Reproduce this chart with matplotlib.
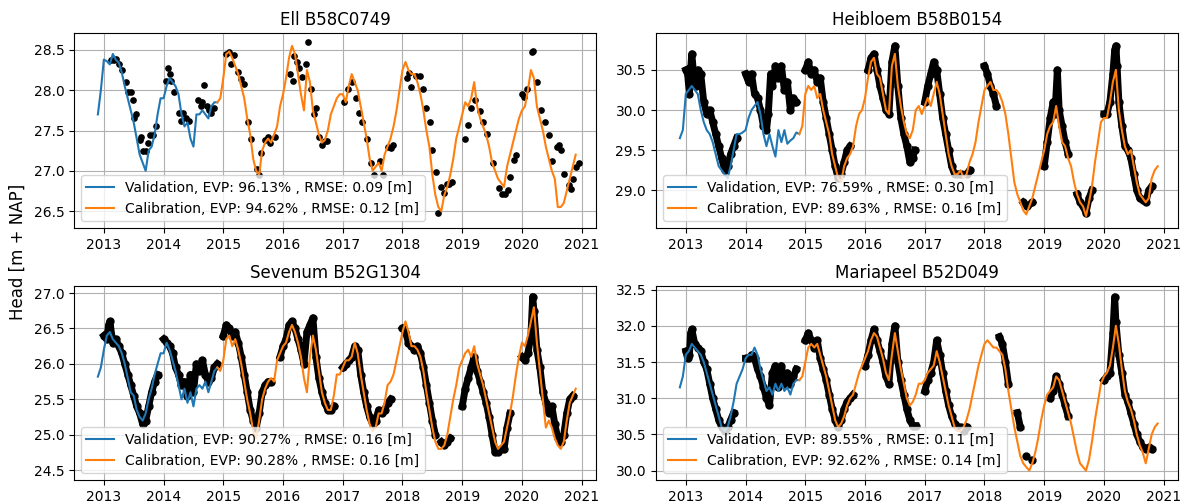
import matplotlib.pyplot as plt
import numpy as np

nan = np.nan
years = list(range(2013, 2022))
split_year = 2014.9

# simulated heads, every 0.05 year from 2012.90 to 2020.90
sim_ell = [27.70, 28.00,
           28.38, 28.36, 28.32, 28.45, 28.38, 28.34, 28.22, 28.05, 27.90, 27.75, 27.60, 27.40, 27.20, 27.10, 27.00, 27.25, 27.30, 27.45, 27.70, 27.90,
           27.90, 28.05, 28.15, 28.10, 28.05, 27.95, 27.70, 27.55, 27.60, 27.40, 27.30, 27.70, 27.70, 27.75, 27.70, 27.65, 27.80, 27.85, 27.85, 27.90,
           28.15, 28.45, 28.48, 28.40, 28.30, 28.20, 28.05, 27.90, 27.65, 27.45, 27.15, 27.00, 26.95, 27.25, 27.35, 27.40, 27.35, 27.45, 27.55, 27.80,
           27.95, 28.15, 28.40, 28.55, 28.45, 28.20, 27.95, 27.75, 28.25, 28.10, 27.75, 27.60, 27.45, 27.35, 27.38, 27.50, 27.70, 27.80, 27.90, 27.95,
           27.95, 27.85, 28.05, 28.20, 28.10, 28.00, 27.80, 27.60, 27.40, 27.15, 27.00, 27.05, 27.10, 27.00, 27.20, 27.30, 27.40, 27.55, 27.75, 28.00,
           28.25, 28.35, 28.25, 28.20, 28.20, 28.10, 27.95, 27.75, 27.50, 27.30, 26.95, 26.70, 26.55, 26.50, 26.70, 26.80, 26.95, 27.15, 27.40, 27.55,
           27.70, 27.85, 27.80, 27.90, 28.10, 27.80, 27.65, 27.55, 27.45, 27.30, 27.10, 27.00, 26.90, 26.85, 26.80, 27.05, 27.20, 27.35, 27.50, 27.65,
           27.75, 27.80, 28.00, 28.25, 28.15, 27.80, 27.65, 27.50, 27.30, 27.15, 27.00, 26.90, 26.55, 26.55, 26.60, 26.75, 26.90, 27.05, 27.20]

sim_heibloem = [29.65, 29.75,
                30.20, 30.25, 30.30, 30.25, 30.20, 30.00, 29.85, 29.75, 29.70, 29.60, 29.45, 29.30, 29.25, 29.20, 29.15, 29.30, 29.50, 29.70, 29.70, 29.72,
                29.75, 29.90, 30.00, 30.05, 30.10, 29.95, 29.70, 29.55, 29.70, 29.55, 29.42, 29.75, 29.60, 29.75, 29.58, 29.62, 29.65, 29.72, 29.70, 29.80,
                30.20, 30.30, 30.25, 30.30, 30.15, 30.20, 30.00, 29.85, 29.70, 29.45, 29.30, 29.15, 29.10, 29.30, 29.40, 29.45, 29.55, 29.80, 29.95, 30.00,
                30.15, 30.40, 30.60, 30.65, 30.45, 30.40, 30.20, 30.00, 29.95, 30.55, 30.70, 30.30, 30.05, 29.85, 29.70, 29.65, 29.75, 30.00, 30.05, 29.95,
                30.05, 30.15, 30.05, 30.20, 30.35, 30.20, 29.95, 29.70, 29.45, 29.30, 29.20, 29.20, 29.25, 29.15, 29.20, 29.35, 29.45, 29.60, 29.85, 30.05,
                30.25, 30.30, 30.35, 30.25, 30.25, 30.20, 30.10, 29.95, 29.70, 29.40, 29.10, 28.95, 28.85, 28.75, 28.70, 28.80, 28.90, 29.05, 29.20, 29.35,
                29.50, 29.70, 29.80, 29.85, 30.05, 29.80, 29.60, 29.55, 29.40, 29.30, 29.10, 28.95, 28.85, 28.80, 28.68, 28.85, 29.05, 29.35, 29.60, 29.85,
                29.90, 29.90, 30.10, 30.35, 30.50, 30.00, 29.75, 29.55, 29.45, 29.50, 29.30, 29.10, 28.95, 28.90, 28.85, 28.90, 29.15, 29.25, 29.30]

sim_sevenum = [25.82, 25.95,
               26.20, 26.40, 26.45, 26.35, 26.30, 26.25, 26.15, 26.00, 25.80, 25.60, 25.55, 25.35, 25.25, 25.20, 25.30, 25.50, 25.65, 25.85, 26.00, 26.15,
               26.15, 26.30, 26.20, 26.05, 25.90, 25.70, 25.50, 25.65, 25.45, 25.60, 25.40, 25.65, 25.70, 25.65, 25.75, 25.60, 25.75, 25.90, 25.95, 25.90,
               26.05, 26.35, 26.40, 26.25, 26.35, 26.20, 26.00, 25.75, 25.50, 25.30, 25.05, 24.95, 25.20, 25.50, 25.65, 25.75, 25.80, 25.75, 26.05, 26.15,
               26.25, 26.30, 26.45, 26.55, 26.45, 26.30, 26.10, 25.80, 25.60, 26.10, 26.40, 26.20, 25.90, 25.60, 25.45, 25.35, 25.35, 25.55, 25.85, 25.85,
               25.95, 26.05, 26.05, 26.10, 26.30, 26.15, 25.85, 25.60, 25.35, 25.15, 25.05, 25.10, 25.30, 25.30, 25.45, 25.70, 25.75, 25.85, 26.05, 26.25,
               26.45, 26.60, 26.45, 26.25, 26.25, 26.20, 26.10, 25.90, 25.60, 25.35, 25.10, 24.90, 24.80, 24.80, 24.85, 25.00, 25.25, 25.50, 25.70, 25.95,
               26.05, 26.15, 26.20, 26.10, 26.25, 26.00, 25.85, 25.70, 25.50, 25.30, 25.10, 24.90, 24.80, 24.85, 24.90, 25.10, 25.30, 25.55, 25.85, 26.10,
               26.30, 26.25, 26.40, 26.60, 26.80, 26.30, 25.90, 25.50, 25.10, 25.20, 25.10, 24.95, 24.85, 24.80, 24.90, 25.20, 25.45, 25.55, 25.65]

sim_mariapeel = [31.15, 31.30,
                 31.60, 31.65, 31.75, 31.70, 31.65, 31.60, 31.50, 31.35, 31.20, 31.05, 30.90, 30.75, 30.60, 30.55, 30.60, 30.75, 30.95, 31.20, 31.30, 31.40,
                 31.55, 31.60, 31.60, 31.70, 31.60, 31.40, 31.25, 31.10, 31.15, 31.05, 31.20, 31.10, 31.20, 31.10, 31.15, 31.05, 31.20, 31.25, 31.25, 31.30,
                 31.50, 31.70, 31.75, 31.70, 31.75, 31.60, 31.45, 31.30, 31.10, 30.90, 30.70, 30.60, 30.65, 30.75, 30.90, 31.00, 31.05, 31.20, 31.35, 31.45,
                 31.55, 31.65, 31.80, 31.90, 31.85, 31.70, 31.55, 31.35, 31.25, 31.60, 31.90, 31.65, 31.40, 31.20, 31.00, 30.90, 30.95, 31.05, 31.20, 31.20,
                 31.25, 31.35, 31.40, 31.45, 31.65, 31.50, 31.30, 31.10, 30.90, 30.75, 30.60, 30.55, 30.55, 30.60, 30.70, 30.85, 31.05, 31.25, 31.45, 31.60,
                 31.75, 31.80, 31.75, 31.70, 31.70, 31.65, 31.60, 31.40, 31.10, 30.85, 30.60, 30.40, 30.20, 30.10, 30.05, 30.00, 30.10, 30.25, 30.45, 30.70,
                 30.90, 31.05, 31.10, 31.15, 31.30, 31.25, 31.10, 30.95, 30.80, 30.65, 30.45, 30.25, 30.10, 30.05, 30.00, 30.15, 30.40, 30.70, 30.95, 31.20,
                 31.30, 31.35, 31.45, 31.70, 32.00, 31.75, 31.40, 31.10, 30.95, 30.85, 30.70, 30.50, 30.35, 30.25, 30.10, 30.30, 30.50, 30.60, 30.65]

# observed heads (decimal year, head), nan = gap in the record
obs_t_ell = [2013.12, 2013.17, 2013.21, 2013.25, 2013.30, 2013.37, 2013.40, 2013.45, 2013.49, 2013.50, 2013.53, 2013.60, 2013.62,
             2013.66, 2013.70, 2013.74, 2013.78, 2013.82, 2013.87, 2014.04, 2014.07, 2014.10, 2014.13, 2014.18, 2014.25, 2014.30,
             2014.33, 2014.38, 2014.43, 2014.58, 2014.62, 2014.65, 2014.67, 2014.72, 2014.76, 2014.80, 2014.84, 2015.05, 2015.09,
             2015.13, 2015.18, 2015.24, 2015.30, 2015.35, 2015.41, 2015.46, 2015.56, 2015.60, 2015.63, 2015.69, 2015.74, 2015.79,
             2015.86, 2016.12, 2016.16, 2016.19, 2016.23, 2016.27, 2016.32, 2016.38, 2016.42, 2016.47, 2016.52, 2016.56, 2016.60,
             2016.65, 2016.70, 2016.74, 2017.02, 2017.08, 2017.16, 2017.22, 2017.28, 2017.33, 2017.40, 2017.47, 2017.53, 2017.62,
             2017.68, 2017.76, 2017.80, 2017.84, 2018.07, 2018.11, 2018.15, 2018.22, 2018.30, 2018.35, 2018.40, 2018.46, 2018.50,
             2018.56, 2018.60, 2018.64, 2018.69, 2018.74, 2018.78, 2018.83, 2019.04, 2019.09, 2019.14, 2019.22, 2019.29, 2019.35,
             2019.42, 2019.51, 2019.62, 2019.67, 2019.72, 2019.76, 2019.80, 2019.86, 2019.90, 2020.00, 2020.04, 2020.09, 2020.16,
             2020.19, 2020.26, 2020.32, 2020.38, 2020.45, 2020.51, 2020.58, 2020.62, 2020.65, 2020.70, 2020.78, 2020.82, 2020.86,
             2020.90, 2020.95]
obs_h_ell = [28.37, 28.37, 28.39, 28.33, 28.25, 28.10, 27.98, 27.98, 27.88, 27.65, 27.70, 27.38, 27.42,
             27.25, 27.24, 27.35, 27.45, 27.45, 27.55, 28.12, 28.27, 28.20, 28.12, 27.98, 27.72, 27.62,
             27.72, 27.65, 27.62, 27.88, 27.80, 27.85, 28.06, 27.80, 27.75, 27.72, 27.78, 28.45, 28.48,
             28.32, 28.44, 28.23, 28.14, 28.08, 27.60, 27.40, 27.02, 26.95, 27.22, 27.38, 27.42, 27.35,
             27.42, 28.20, 28.12, 28.42, 28.35, 28.28, 28.16, 28.33, 28.60, 28.02, 27.70, 27.78, 27.42,
             27.32, 27.37, 27.37, 27.85, 28.02, 28.10, 27.90, 27.72, 27.60, 27.40, 27.10, 26.95, 27.12,
             26.95, 27.30, 27.28, 27.32, 28.15, 28.21, 28.04, 28.18, 28.18, 28.02, 27.78, 27.60, 27.26,
             26.98, 26.48, 26.80, 26.72, 26.84, 26.84, 26.86, 27.40, 27.57, 27.78, 27.88, 27.74, 27.60,
             27.46, 27.10, 26.79, 26.71, 26.71, 26.76, 26.92, 27.14, 27.20, 27.95, 27.92, 28.02, 28.47,
             28.49, 28.10, 27.76, 27.60, 27.44, 27.12, 27.30, 27.32, 27.26, 26.96, 26.82, 26.78, 26.90,
             27.05, 27.10]

obs_t_heibloem = [2013.00, 2013.03, 2013.06, 2013.08, 2013.10, 2013.13, 2013.17, 2013.20, 2013.25, 2013.30, 2013.35, 2013.40,
                  2013.45, 2013.50, 2013.55, 2013.60, 2013.65, 2013.70, 2013.75, 2013.80, 2013.85, nan,
                  2014.00, 2014.05, 2014.10, 2014.15, 2014.20, 2014.25, 2014.30, 2014.35, 2014.38, 2014.42, 2014.45, 2014.50,
                  2014.55, 2014.60, 2014.65, 2014.70, 2014.75, 2014.80, 2014.85, nan,
                  2015.00, 2015.05, 2015.10, 2015.15, 2015.20, 2015.25, 2015.30, 2015.35, 2015.40, 2015.45, 2015.50, 2015.55,
                  2015.60, 2015.65, 2015.70, 2015.75, nan,
                  2016.05, 2016.10, 2016.15, 2016.20, 2016.25, 2016.30, 2016.35, 2016.40, 2016.45, 2016.50, 2016.55, 2016.60,
                  2016.65, 2016.70, 2016.75, 2016.80, 2016.83, nan,
                  2017.00, 2017.05, 2017.10, 2017.15, 2017.20, 2017.25, 2017.30, 2017.35, 2017.40, 2017.45, 2017.50, 2017.55,
                  2017.60, 2017.70, 2017.75, nan,
                  2018.00, 2018.05, 2018.10, 2018.15, 2018.20, nan,
                  2018.65, 2018.72, 2018.80, nan,
                  2019.00, 2019.05, 2019.10, 2019.15, 2019.18, 2019.22, 2019.25, 2019.30, 2019.35, 2019.40, nan,
                  2019.55, 2019.60, 2019.65, 2019.70, 2019.75, 2019.80, nan,
                  2020.00, 2020.05, 2020.10, 2020.15, 2020.18, 2020.20, 2020.22, 2020.25, 2020.30, 2020.35, 2020.40, 2020.45,
                  2020.50, 2020.55, 2020.60, 2020.65, 2020.70, 2020.75, 2020.80]
obs_h_heibloem = [30.50, 30.45, 30.20, 30.50, 30.70, 30.45, 30.30, 30.50, 30.45, 30.10, 29.95, 30.00,
                  29.85, 29.70, 29.55, 29.40, 29.25, 29.30, 29.45, 29.55, 29.65, nan,
                  30.45, 30.35, 30.45, 30.20, 30.15, 30.00, 29.80, 29.75, 29.95, 30.45, 30.30, 30.55,
                  30.40, 30.55, 30.25, 30.35, 30.00, 30.15, 30.10, nan,
                  30.50, 30.60, 30.45, 30.50, 30.35, 30.40, 30.10, 29.90, 29.70, 29.50, 29.30, 29.15,
                  29.20, 29.35, 29.50, 29.55, nan,
                  30.50, 30.65, 30.70, 30.50, 30.30, 30.15, 30.00, 29.95, 30.60, 30.80, 30.30, 29.90,
                  29.70, 29.55, 29.35, 29.40, 29.50, nan,
                  30.10, 30.30, 30.45, 30.60, 30.50, 30.20, 29.90, 29.70, 29.50, 29.30, 29.20, 29.20,
                  29.20, 29.20, 29.25, nan,
                  30.55, 30.45, 30.30, 30.20, 30.05, nan,
                  28.85, 28.80, 28.85, nan,
                  29.30, 29.60, 29.90, 30.10, 29.95, 30.50, 30.00, 29.80, 29.60, 29.45, nan,
                  28.95, 28.85, 28.80, 28.72, 28.90, 29.00, nan,
                  29.95, 29.95, 30.10, 30.45, 30.75, 30.80, 30.55, 30.10, 29.80, 29.55, 29.50, 29.40,
                  29.20, 29.00, 28.90, 28.88, 28.85, 29.00, 29.05]

obs_t_sevenum = [2013.00, 2013.05, 2013.08, 2013.10, 2013.15, 2013.20, 2013.25, 2013.30, 2013.35, 2013.40, 2013.45, 2013.50,
                 2013.55, 2013.60, 2013.65, 2013.70, 2013.75, 2013.80, 2013.85, 2013.90, nan,
                 2014.00, 2014.05, 2014.10, 2014.15, 2014.20, 2014.25, 2014.30, 2014.35, 2014.40, 2014.45, 2014.50, 2014.55,
                 2014.60, 2014.65, 2014.70, 2014.75, 2014.80, 2014.85, 2014.90, nan,
                 2015.00, 2015.05, 2015.10, 2015.15, 2015.20, 2015.25, 2015.30, 2015.35, 2015.40, 2015.45, 2015.50, 2015.55,
                 2015.60, 2015.65, 2015.70, 2015.75, 2015.80, nan,
                 2015.95, 2016.00, 2016.05, 2016.10, 2016.15, 2016.20, 2016.25, 2016.30, 2016.35, 2016.40, 2016.45, 2016.50,
                 2016.55, 2016.60, 2016.65, 2016.70, 2016.75, 2016.80, 2016.85, nan,
                 2017.00, 2017.05, 2017.10, 2017.15, 2017.20, 2017.25, 2017.30, 2017.35, 2017.40, 2017.45, 2017.50, 2017.55,
                 2017.60, 2017.65, 2017.70, 2017.75, 2017.80, nan,
                 2018.00, 2018.05, 2018.10, 2018.15, 2018.20, 2018.25, 2018.30, 2018.35, 2018.40, 2018.45, 2018.50, 2018.55, nan,
                 2018.65, 2018.70, 2018.75, 2018.80, nan,
                 2019.00, 2019.05, 2019.10, 2019.15, 2019.20, 2019.25, 2019.30, 2019.35, 2019.40, 2019.45, 2019.50, 2019.55,
                 2019.60, 2019.65, 2019.70, 2019.75, 2019.80, nan,
                 2020.00, 2020.05, 2020.10, 2020.15, 2020.18, 2020.20, 2020.25, 2020.30, 2020.35, 2020.40, 2020.45, 2020.50,
                 2020.55, 2020.60, 2020.65, 2020.70, 2020.75, 2020.80, 2020.85]
obs_h_sevenum = [26.40, 26.35, 26.55, 26.60, 26.30, 26.35, 26.25, 26.15, 26.00, 25.85, 25.70, 25.55,
                 25.40, 25.30, 25.15, 25.20, 25.40, 25.60, 25.75, 25.85, nan,
                 26.35, 26.30, 26.25, 26.15, 25.95, 25.85, 25.70, 25.75, 25.55, 25.85, 25.60, 26.00,
                 25.90, 26.05, 25.85, 25.75, 25.80, 25.95, 26.00, nan,
                 26.40, 26.55, 26.50, 26.40, 26.45, 26.30, 26.10, 25.85, 25.60, 25.35, 25.20, 25.10,
                 25.30, 25.60, 25.70, 25.75, 25.75, nan,
                 26.10, 26.25, 26.35, 26.55, 26.60, 26.50, 26.35, 26.20, 26.00, 26.45, 26.55, 26.65,
                 26.10, 25.80, 25.60, 25.45, 25.35, 25.35, 25.40, nan,
                 25.95, 26.00, 26.05, 26.10, 26.25, 26.20, 25.85, 25.60, 25.40, 25.25, 25.15, 25.20,
                 25.35, 25.30, 25.35, 25.45, 25.50, nan,
                 26.50, 26.45, 26.30, 26.25, 26.20, 26.25, 26.15, 25.95, 25.70, 25.45, 25.20, 25.00, nan,
                 24.90, 24.85, 24.90, 24.95, nan,
                 25.40, 25.65, 25.80, 25.95, 26.10, 25.90, 25.75, 25.60, 25.45, 25.25, 25.00, 24.75,
                 24.75, 24.80, 24.80, 25.10, 25.30, nan,
                 26.10, 26.05, 26.15, 26.40, 26.95, 26.75, 26.20, 25.95, 25.60, 25.45, 25.30, 25.40,
                 25.15, 24.95, 24.90, 25.00, 25.30, 25.50, 25.55]

obs_t_mariapeel = [2013.00, 2013.03, 2013.06, 2013.08, 2013.10, 2013.15, 2013.20, 2013.25, 2013.30, 2013.35, 2013.40, 2013.45,
                   2013.50, 2013.55, 2013.60, 2013.65, 2013.70, 2013.75, 2013.80, nan,
                   2014.00, 2014.05, 2014.10, 2014.15, 2014.20, 2014.25, 2014.30, 2014.35, 2014.40, 2014.45, 2014.50, 2014.55,
                   2014.60, 2014.65, 2014.70, 2014.75, 2014.80, 2014.85, nan,
                   2015.00, 2015.05, 2015.10, 2015.15, 2015.20, 2015.25, 2015.30, 2015.35, 2015.40, 2015.45, 2015.50, 2015.55,
                   2015.60, 2015.65, 2015.70, 2015.75, 2015.80, nan,
                   2016.00, 2016.05, 2016.10, 2016.15, 2016.20, 2016.25, 2016.30, 2016.35, 2016.40, 2016.45, 2016.50, 2016.55,
                   2016.60, 2016.65, 2016.70, 2016.75, 2016.80, 2016.85, nan,
                   2017.00, 2017.05, 2017.10, 2017.15, 2017.20, 2017.25, 2017.30, 2017.35, 2017.40, 2017.45, 2017.50, 2017.55,
                   2017.60, 2017.65, 2017.70, nan,
                   2018.25, 2018.30, 2018.35, 2018.40, nan,
                   2018.55, 2018.60, nan, 2018.70, nan, 2018.80, nan,
                   2019.10, 2019.15, 2019.20, 2019.25, 2019.30, 2019.35, 2019.40, nan,
                   2020.00, 2020.05, 2020.10, 2020.15, 2020.18, 2020.20, 2020.25, 2020.30, 2020.35, 2020.40, 2020.45, 2020.50,
                   2020.55, 2020.60, 2020.65, 2020.70, 2020.75, 2020.80]
obs_h_mariapeel = [31.65, 31.55, 31.60, 31.90, 31.95, 31.75, 31.70, 31.65, 31.50, 31.40, 31.20, 31.00,
                   30.85, 30.70, 30.60, 30.55, 30.60, 30.70, 30.80, nan,
                   31.55, 31.55, 31.60, 31.55, 31.40, 31.30, 31.15, 31.00, 30.90, 31.35, 31.45, 31.15,
                   31.45, 31.20, 31.35, 31.20, 31.30, 31.40, nan,
                   31.80, 31.90, 31.80, 31.70, 31.80, 31.55, 31.40, 31.25, 31.05, 30.85, 30.70, 30.60,
                   30.70, 30.85, 30.95, 31.00, 31.05, nan,
                   31.45, 31.60, 31.80, 31.95, 31.80, 31.65, 31.50, 31.30, 31.20, 31.75, 32.00, 31.50,
                   31.25, 31.05, 30.85, 30.70, 30.62, 30.62, nan,
                   31.10, 31.25, 31.35, 31.50, 31.80, 31.60, 31.35, 31.10, 30.90, 30.75, 30.65, 30.60,
                   30.60, 30.55, 30.60, nan,
                   31.85, 31.75, 31.50, 31.20, nan,
                   30.80, 30.60, nan, 30.20, nan, 30.15, nan,
                   31.00, 31.10, 31.30, 31.20, 31.05, 30.90, 30.75, nan,
                   31.25, 31.30, 31.35, 31.90, 32.40, 32.05, 31.60, 31.35, 31.05, 30.95, 30.80, 30.65,
                   30.50, 30.40, 30.32, 30.30, 30.32, 30.30]

titles = ["Ell B58C0749", "Heibloem B58B0154", "Sevenum B52G1304", "Mariapeel B52D049"]
val_labels = ["Validation, EVP: 96.13% , RMSE: 0.09 [m]", "Validation, EVP: 76.59% , RMSE: 0.30 [m]",
              "Validation, EVP: 90.27% , RMSE: 0.16 [m]", "Validation, EVP: 89.55% , RMSE: 0.11 [m]"]
cal_labels = ["Calibration, EVP: 94.62% , RMSE: 0.12 [m]", "Calibration, EVP: 89.63% , RMSE: 0.16 [m]",
              "Calibration, EVP: 90.28% , RMSE: 0.16 [m]", "Calibration, EVP: 92.62% , RMSE: 0.14 [m]"]
y_ticks = [[26.5, 27.0, 27.5, 28.0, 28.5], [29.0, 29.5, 30.0, 30.5],
           [24.5, 25.0, 25.5, 26.0, 26.5, 27.0], [30.0, 30.5, 31.0, 31.5, 32.0, 32.5]]
y_lims = [(26.29, 28.71), (28.53, 30.96), (24.36, 27.10), (29.87, 32.55)]

sims = [sim_ell, sim_heibloem, sim_sevenum, sim_mariapeel]
obs_t = [obs_t_ell, obs_t_heibloem, obs_t_sevenum, obs_t_mariapeel]
obs_h = [obs_h_ell, obs_h_heibloem, obs_h_sevenum, obs_h_mariapeel]

fig = plt.figure(figsize=(11.8, 5.03), dpi=100)
boxes = [[0.0627, 0.5467, 0.4424, 0.3877], [0.5559, 0.5467, 0.4424, 0.3877],
         [0.0627, 0.0457, 0.4424, 0.3857], [0.5559, 0.0457, 0.4424, 0.3857]]

for i in range(4):
    ax = fig.add_axes(boxes[i])
    sim = np.array(sims[i])
    t = np.round(2012.9 + 0.05 * np.arange(len(sim)), 2)
    val = t <= split_year
    cal = t >= split_year

    ot = np.array(obs_t[i], dtype=float)
    oh = np.array(obs_h[i], dtype=float)
    if i == 0:
        ax.plot(ot, oh, "o", color="black", ms=3.8)
    else:
        # dense daily record -> thick band of dots
        ax.plot(ot, oh, "o-", color="black", ms=5, lw=5)

    ax.plot(t[val], sim[val], color="#1f77b4", lw=1.5, label=val_labels[i])
    ax.plot(t[cal], sim[cal], color="#ff7f0e", lw=1.5, label=cal_labels[i])

    ax.set_title(titles[i], fontsize=12)
    ax.set_xlim(2012.5, 2021.24)
    ax.set_xticks(years)
    ax.set_xticklabels([str(y) for y in years])
    ax.set_yticks(y_ticks[i])
    ax.set_ylim(*y_lims[i])
    ax.grid(True)
    ax.legend(loc="lower left", fontsize=10)

fig.text(0.015, 0.5, "Head [m + NAP]", rotation=90, va="center", ha="center", fontsize=12)

fig.savefig("out.png", dpi=100)
